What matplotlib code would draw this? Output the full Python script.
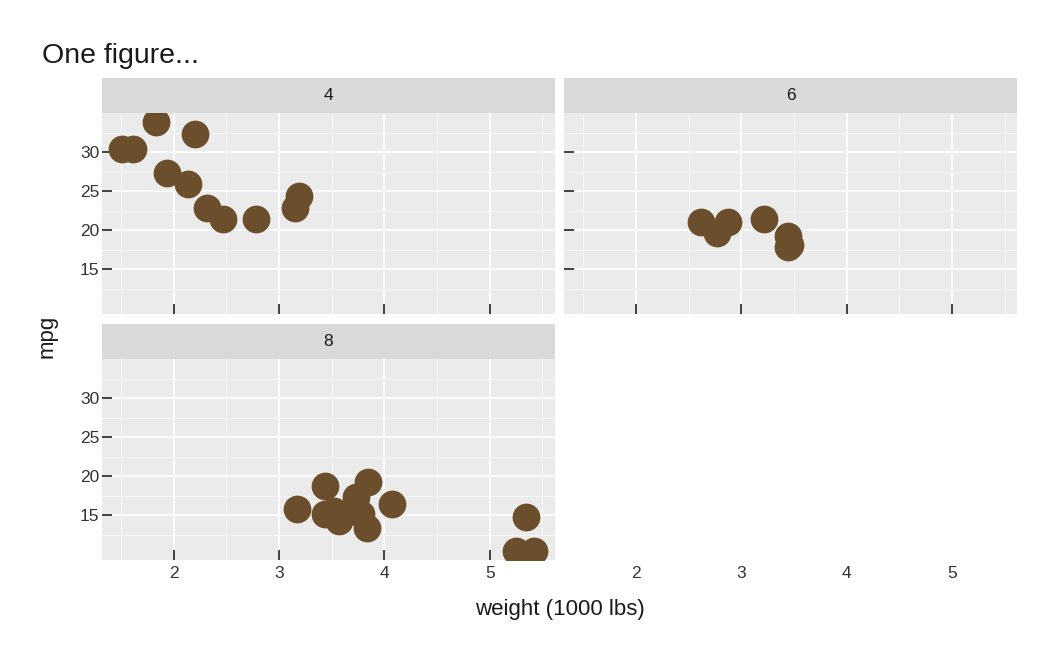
import matplotlib
matplotlib.use("Agg")
import matplotlib.pyplot as plt
from matplotlib.ticker import FixedLocator

plt.rcParams['font.family'] = ['Liberation Sans', 'DejaVu Sans']

# mtcars: weight (1000 lbs), mpg, grouped by cylinders
wt_4 = [2.320, 3.190, 3.150, 2.200, 1.615, 1.835, 2.465, 1.935, 2.140, 1.513, 2.780]
mpg_4 = [22.8, 24.4, 22.8, 32.4, 30.4, 33.9, 21.5, 27.3, 26.0, 30.4, 21.4]
wt_6 = [2.620, 2.875, 3.215, 3.460, 3.440, 3.440, 2.770]
mpg_6 = [21.0, 21.0, 21.4, 18.1, 19.2, 17.8, 19.7]
wt_8 = [3.440, 3.570, 4.070, 3.730, 3.780, 5.250, 5.424, 5.345,
        3.520, 3.435, 3.840, 3.845, 3.170, 3.570]
mpg_8 = [18.7, 14.3, 16.4, 17.3, 15.2, 10.4, 10.4, 14.7,
         15.5, 15.2, 13.3, 19.2, 15.8, 15.0]
facet_labels = ["4", "6", "8"]
x_ticks = [2, 3, 4, 5]
y_ticks = [15, 20, 25, 30]
x_minor = [1.5, 2.5, 3.5, 4.5, 5.5]
y_minor = [12.5, 17.5, 22.5, 27.5, 32.5]

colors = {
    "panel": "#ebebeb",
    "strip": "#d9d9d9",
    "point": "#6b4f2c",
    "tick": "#333333",
    "text": "#1a1a1a",
}

W, H = 1050, 660
fig = plt.figure(figsize=(W / 100, H / 100), dpi=100)


def px_box(x0, y0, x1, y1):
    # pixel box (top-left origin) -> figure fraction rect
    return [x0 / W, 1 - y1 / H, (x1 - x0) / W, (y1 - y0) / H]


col_x = [(101.7, 555), (564, 1017.3)]
row_y = [(113, 314), (359, 560)]
strip_h = 35

ax4 = fig.add_axes(px_box(col_x[0][0], row_y[0][0], col_x[0][1], row_y[0][1]))
ax6 = fig.add_axes(px_box(col_x[1][0], row_y[0][0], col_x[1][1], row_y[0][1]),
                   sharex=ax4, sharey=ax4)
ax8 = fig.add_axes(px_box(col_x[0][0], row_y[1][0], col_x[0][1], row_y[1][1]),
                   sharex=ax4, sharey=ax4)
# invisible axes in the empty slot, only carries x tick labels for the "6" panel
ax_lab = fig.add_axes(px_box(col_x[1][0], row_y[1][0], col_x[1][1], row_y[1][1]),
                      sharex=ax4)

panels = [(ax4, wt_4, mpg_4), (ax6, wt_6, mpg_6), (ax8, wt_8, mpg_8)]

for (ax, xs, ys), lab in zip(panels, facet_labels):
    ax.set_facecolor(colors["panel"])
    for s in ax.spines.values():
        s.set_visible(False)
    ax.scatter(xs, ys, s=400, color=colors["point"], linewidths=0, zorder=3)
    ax.margins(0.05)
    ax.xaxis.set_major_locator(FixedLocator(x_ticks))
    ax.yaxis.set_major_locator(FixedLocator(y_ticks))
    ax.xaxis.set_minor_locator(FixedLocator(x_minor))
    ax.yaxis.set_minor_locator(FixedLocator(y_minor))
    ax.grid(True, which="major", color="white", linewidth=1.2, zorder=0)
    ax.grid(True, which="minor", color="#f7f7f7", linewidth=0.7, zorder=0)
    ax.set_axisbelow(True)
    ax.tick_params(which="major", direction="in", length=7, width=1.3,
                   color=colors["tick"], labelcolor=colors["tick"], labelsize=12.5)
    ax.tick_params(axis="y", pad=1.5)
    ax.tick_params(axis="x", pad=4)
    ax.tick_params(which="minor", length=0)

    # facet strip
    pos = ax.get_position()
    sax = fig.add_axes([pos.x0, pos.y1, pos.width, strip_h / H])
    sax.set_facecolor(colors["strip"])
    sax.set_xticks([])
    sax.set_yticks([])
    for s in sax.spines.values():
        s.set_visible(False)
    sax.text(0.5, 0.5, lab, ha="center", va="center", fontsize=12.5,
             color=colors["text"], transform=sax.transAxes)

ax4.tick_params(labelbottom=False)
ax6.tick_params(labelbottom=False, labelleft=False)

ax_lab.set_facecolor("none")
for s in ax_lab.spines.values():
    s.set_visible(False)
ax_lab.set_yticks([])
ax_lab.tick_params(axis="x", length=0, pad=4, labelsize=12.5, labelcolor=colors["tick"])
ax_lab.tick_params(which="minor", length=0)

fig.text(42 / W, 1 - 63 / H, "One figure...", fontsize=20.5,
         color=colors["text"], ha="left", va="baseline")
fig.text(559.5 / W, 1 - 610 / H, "weight (1000 lbs)", fontsize=16,
         color=colors["text"], ha="center", va="center")
fig.text(47 / W, 1 - 336.5 / H, "mpg", fontsize=16, rotation=90,
         color=colors["text"], ha="center", va="center")

fig.savefig("out.png", dpi=100)
